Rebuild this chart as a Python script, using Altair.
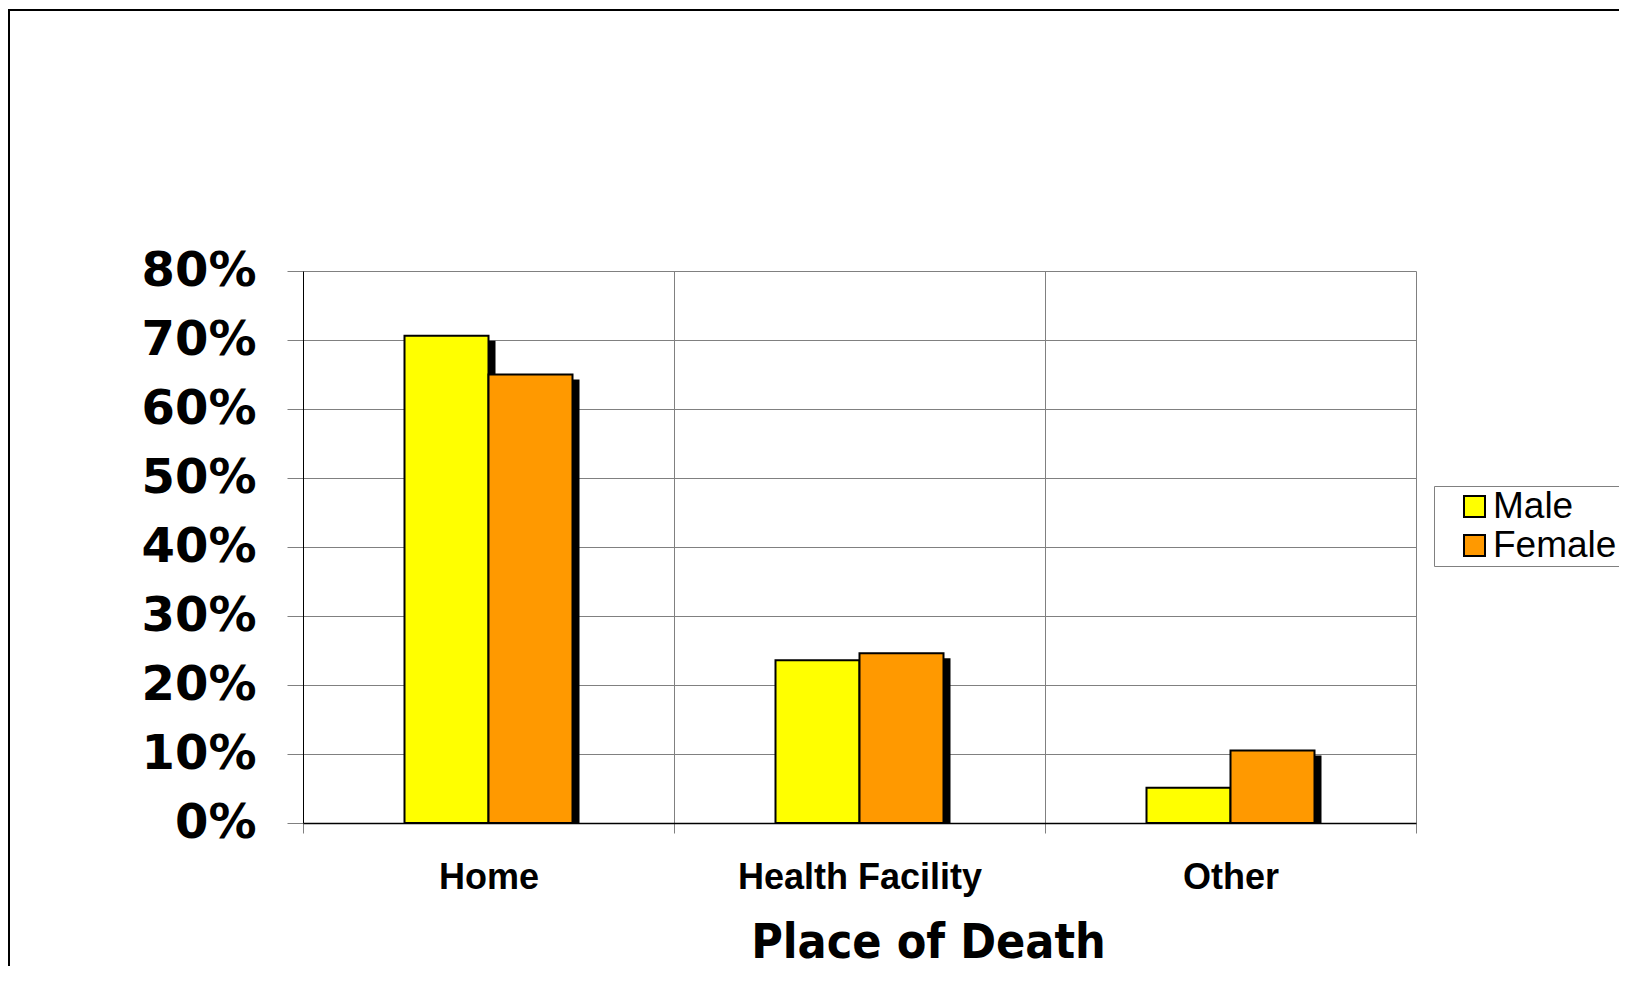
import altair as alt
import pandas as pd

categories = ["Home", "Health Facility", "Other"]
series = ["Male", "Female"]
male = [70.6, 23.6, 5.1]
female = [65.0, 24.6, 10.5]
y_ticks = [0, 10, 20, 30, 40, 50, 60, 70, 80]
colors = ["#FFFF00", "#FF9900"]

rows = []
for name, vals in zip(series, [male, female]):
    for c, v in zip(categories, vals):
        rows.append({"place": c, "sex": name, "pct": v})
df = pd.DataFrame(rows)

GRID = "#808080"
BAND = 1113 / 3          # width of one category band
PAIR = 168               # width of a pair of bars
SHADOW_DX = 7

x_enc = alt.X(
    "place:N",
    sort=categories,
    scale=alt.Scale(paddingInner=0, paddingOuter=0),
    axis=alt.Axis(
        tickBand="extent",
        grid=True,
        gridColor=GRID,
        gridWidth=1,
        ticks=True,
        tickSize=10,
        tickColor=GRID,
        domainColor="black",
        domainWidth=1.5,
        labelAngle=0,
        labelFont="Liberation Sans",
        labelFontWeight="bold",
        labelFontSize=36,
        labelColor="black",
        labelPadding=55,
        labelLimit=600,
        labelBaseline="alphabetic",
        title="Place of Death",
        titleFont="DejaVu Sans Condensed, DejaVu Sans",
        titleFontWeight="bold",
        titleFontSize=48,
        titleColor="black",
        titleX=625,
        titleY=134,
        titleAlign="center",
        titleBaseline="alphabetic",
    ),
)


def offset_enc(shift):
    return alt.XOffset(
        "sex:N",
        sort=series,
        scale=alt.Scale(
            paddingInner=0,
            paddingOuter=0,
            range=[(BAND - PAIR) / 2 + shift, (BAND + PAIR) / 2 + shift],
        ),
    )


y_enc = alt.Y(
    "pct:Q",
    scale=alt.Scale(domain=[0, 80], nice=False),
    axis=alt.Axis(
        values=y_ticks,
        labelExpr="datum.value + '%'",
        grid=True,
        gridColor=GRID,
        gridWidth=1,
        tickSize=16,
        tickColor=GRID,
        domainColor="black",
        domainWidth=1,
        labelFont="DejaVu Sans",
        labelFontWeight="bold",
        labelFontSize=48,
        labelColor="black",
        labelPadding=31,
        title=None,
    ),
)

base = alt.Chart(df).encode(x=x_enc, y=y_enc)

shadow = base.mark_bar(color="black", yOffset=5, clip=True).encode(
    xOffset=offset_enc(SHADOW_DX)
)

bars = base.mark_bar(stroke="black", strokeWidth=2).encode(
    xOffset=offset_enc(0),
    color=alt.Color(
        "sex:N",
        scale=alt.Scale(domain=series, range=colors),
        legend=alt.Legend(
            title=None,
            orient="none",
            legendX=1131,
            legendY=215,
            direction="vertical",
            symbolType="square",
            symbolSize=441,
            symbolStrokeColor="black",
            symbolStrokeWidth=2,
            symbolOffset=20,
            labelOffset=0,
            labelFont="Liberation Sans",
            labelFontSize=37,
            labelColor="black",
            labelLimit=400,
            padding=2,
            rowPadding=1,
            strokeColor=GRID,
            fillColor="white",
        ),
    ),
)

frame = alt.Chart(alt.Data(values=[{"a": 1}])).mark_rect(
    fillOpacity=0, stroke="black", strokeWidth=2
).encode(
    x=alt.value(-294),
    x2=alt.value(1400),
    y=alt.value(-261),
    y2=alt.value(760),
)

chart = alt.layer(frame, shadow, bars).resolve_scale(
    xOffset="independent"
).properties(
    width=1113,
    height=552,
    autosize=alt.AutoSizeParams(type="none"),
    padding={"left": 295, "top": 263, "right": 203, "bottom": 143},
    background="white",
).configure_view(strokeOpacity=0)

chart.save("out.html", embed_options={"renderer": "svg", "actions": False})
